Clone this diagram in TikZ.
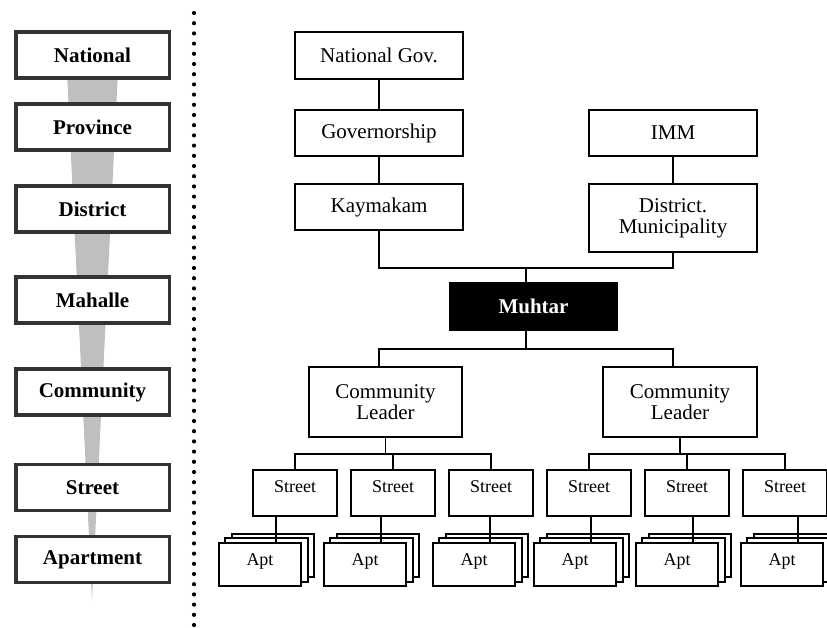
\documentclass[tikz,border=0pt]{standalone}
\usepackage{fontspec}
\setmainfont{Liberation Serif}

\begin{document}
\begin{tikzpicture}[x=1pt, y=-1pt, line width=1.6pt,
    lvl/.style={rectangle, draw=black!80, line width=3.5pt, fill=white, minimum width=153.5pt, minimum height=46pt, font=\fontsize{21}{21}\selectfont\bfseries},
    org/.style={rectangle, draw, fill=white, align=center, minimum width=168.5pt, minimum height=46.5pt, font=\fontsize{21}{21}\selectfont},
    small/.style={rectangle, draw, fill=white, minimum width=83.5pt, minimum height=46.5pt, text depth=12pt, font=\fontsize{18}{18}\selectfont},
    apt/.style={small, minimum width=82.5pt, minimum height=43.5pt, text depth=10pt}]
    \useasboundingbox (0,0) rectangle (827,627);
    \fill[black!25] (65,30) -- (120,30) -- (92,600) -- cycle;
    \foreach \t/\y/\n in {National/55/l1, Province/127/l2, District/209/l3, Mahalle/300/l4, Community/392/l5, Street/487.5/l6, Apartment/559.5/l7}
        \node[lvl] (\n) at (92.5,\y) {\t};
    \foreach \i in {0,...,60}
        \fill (194,13+10.2*\i) circle (2.1pt);

    \node[org] (natgov) at (379,55.5) {National Gov.};
    \node[org] (gov) at (379,133) {Governorship};
    \node[org] (kay) at (379,207) {Kaymakam};
    \node[org] (imm) at (673,133) {IMM};
    \node[org, minimum height=68.5pt] (dmun) at (673,218) {District.\\Municipality};
    \node[org, fill=black, text=white, minimum width=167.5pt, minimum height=47.5pt, font=\fontsize{21}{21}\selectfont\bfseries] (muhtar) at (533.5,306.5) {Muhtar};
    \node[org, minimum width=153.5pt, minimum height=70.5pt] (cl1) at (385.5,402) {Community\\Leader};
    \node[org, minimum width=153.5pt, minimum height=70.5pt] (cl2) at (680,402) {Community\\Leader};
    \coordinate (j1) at (526,268);
    \coordinate (j2) at (526,349);

    \draw (natgov) -- (gov) -- (kay);
    \draw (imm) -- (dmun);
    \draw (kay.south) |- (j1) -| (dmun.south);
    \draw (j1) -- (j1 |- muhtar.north);
    \draw (j1 |- muhtar.south) -- (j2);
    \draw (cl1.north -| kay.south) |- (j2) -| (cl2.north -| dmun.south);

    \foreach \x [count=\i] in {295,393,491,589,687,785}
        \node[small] (s\i) at (\x,493) {Street};
    \draw (s1.north) -- ++(0,-15) -| (s3.north);
    \draw (s2.north) -- ++(0,-15);
    \draw (cl1.south) -- ++(0,16);
    \draw (s4.north) -- ++(0,-15) -| (s6.north);
    \draw (s5.north) -- ++(0,-15);
    \draw (cl2.south) -- ++(0,16);

    \foreach \x [count=\i] in {260,365,474,575,677,782} {
        \node[apt] (c\i) at (\x+13,555.5) {};
        \node[apt] (b\i) at (\x+6.5,560) {};
        \node[apt] (a\i) at (\x,564.5) {Apt};
        \coordinate (t\i) at ([xshift=16pt]a\i.north);
        \draw (t\i) -- (t\i |- s\i.south);
    }
\end{tikzpicture}
\end{document}
